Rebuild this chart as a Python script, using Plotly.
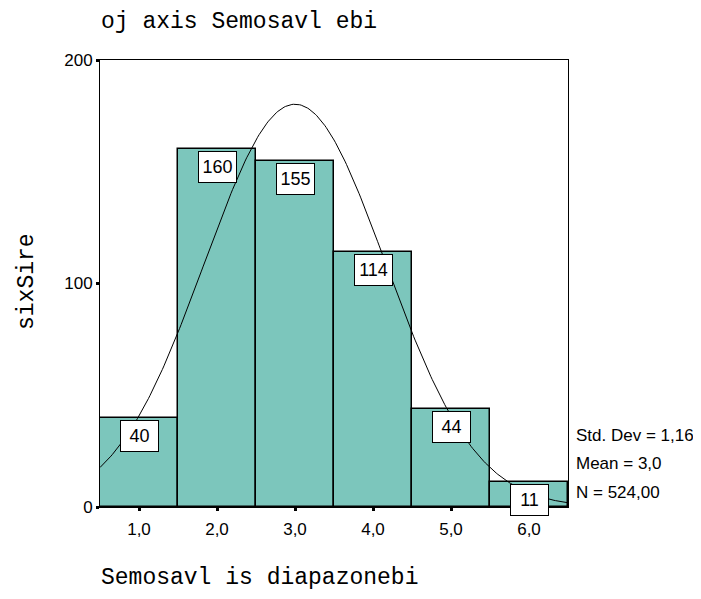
import numpy as np
import plotly.graph_objects as go

# Data
categories = [1, 2, 3, 4, 5, 6]
tick_labels = ["1,0", "2,0", "3,0", "4,0", "5,0", "6,0"]
counts = [40, 160, 155, 114, 44, 11]
y_ticks = [0, 100, 200]
stat_mean = 3.0
stat_sd = 1.16
stat_n = 524
stats_lines = ["Std. Dev = 1,16", "Mean = 3,0", "N = 524,00"]

title_text = "oj axis Semosavl ebi"
x_title = "Semosavl is diapazonebi"
y_title = "sixSire"

# page has an 8px body margin; work in page pixels and offset
OFF = 8
W, H = 701 - OFF, 599 - OFF
L, R, T, B = 100 - OFF, 568 - OFF, 60 - OFF, 507 - OFF

def px_to_paper_x(px):
    return (px - OFF - L) / (R - L)

def px_to_paper_y(py):
    return (B - (py - OFF)) / (B - T)

# Normal fit curve from reported statistics (bin width 1)
xs = np.linspace(0.5, 6.5, 301)
ys = stat_n / (stat_sd * np.sqrt(2 * np.pi)) * np.exp(-0.5 * ((xs - stat_mean) / stat_sd) ** 2)

bar_color = "#7cc6bc"
sans = "Liberation Sans, Arial, sans-serif"
mono = "Liberation Mono, DejaVu Sans Mono, monospace"

fig = go.Figure()
fig.add_trace(go.Bar(
    x=categories, y=counts, width=1,
    marker=dict(color=bar_color, line=dict(color="black", width=1.5)),
    hoverinfo="skip", showlegend=False,
))
fig.add_trace(go.Scatter(
    x=xs, y=ys, mode="lines",
    line=dict(color="black", width=1),
    hoverinfo="skip", showlegend=False,
))

annotations = []
for xc, c in zip(categories, counts):
    annotations.append(dict(
        x=xc, y=c, xref="x", yref="y", text=str(c), showarrow=False,
        yanchor="top", xanchor="center", yshift=-2,
        font=dict(family=sans, size=18, color="black"),
        bgcolor="white", bordercolor="black", borderwidth=1,
        width=35, height=28, borderpad=1,
    ))

# Title, axis titles
annotations.append(dict(
    x=px_to_paper_x(99), y=px_to_paper_y(22), xref="paper", yref="paper",
    text=title_text, showarrow=False, xanchor="left", yanchor="middle",
    font=dict(family=mono, size=23, color="black"),
))
annotations.append(dict(
    x=px_to_paper_x(99), y=px_to_paper_y(578), xref="paper", yref="paper",
    text=x_title, showarrow=False, xanchor="left", yanchor="middle",
    font=dict(family=mono, size=23, color="black"),
))
annotations.append(dict(
    x=px_to_paper_x(27), y=px_to_paper_y(282), xref="paper", yref="paper",
    text=y_title, showarrow=False, xanchor="center", yanchor="middle",
    textangle=-90,
    font=dict(family=mono, size=23, color="black"),
))

# Stats
for s, py in zip(stats_lines, [435, 463, 492]):
    annotations.append(dict(
        x=px_to_paper_x(574), y=px_to_paper_y(py), xref="paper", yref="paper",
        text=s, showarrow=False, xanchor="left", yanchor="middle",
        font=dict(family=sans, size=17, color="black"),
    ))

fig.update_layout(
    width=W, height=H,
    margin=dict(l=L, r=W - R, t=T, b=H - B, pad=0),
    paper_bgcolor="white", plot_bgcolor="white",
    bargap=0,
    annotations=annotations,
    font=dict(family=sans, size=17, color="black"),
)
fig.update_xaxes(
    range=[0.5, 6.5], tickvals=categories, ticktext=tick_labels,
    showline=True, mirror=True, linecolor="black", linewidth=1,
    ticks="outside", ticklen=3, tickwidth=3, tickcolor="black",
    showgrid=False, zeroline=False, ticklabelstandoff=4,
    tickfont=dict(family=sans, size=17, color="black"),
)
fig.update_yaxes(
    range=[0, 200], tickvals=y_ticks,
    showline=True, mirror=True, linecolor="black", linewidth=1,
    ticks="outside", ticklen=3, tickwidth=3, tickcolor="black",
    showgrid=False, zeroline=False,
    tickfont=dict(family=sans, size=17, color="black"),
)

fig.write_html("out.html")
